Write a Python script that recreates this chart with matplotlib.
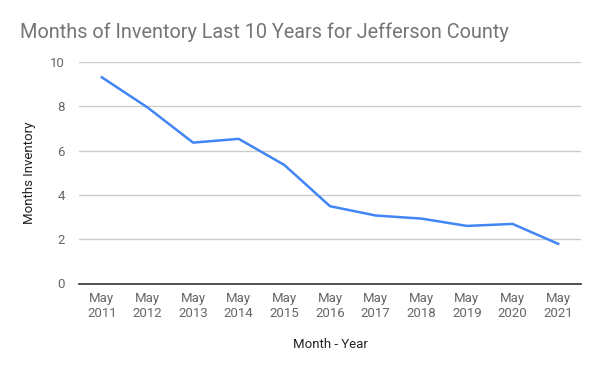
import matplotlib
matplotlib.use("Agg")
import matplotlib.pyplot as plt

plt.rcParams['font.family'] = ['Roboto', 'DejaVu Sans']

# data
years = ["2011", "2012", "2013", "2014", "2015", "2016",
         "2017", "2018", "2019", "2020", "2021"]
labels = ["May\n" + y for y in years]
inventory = [9.31, 7.95, 6.36, 6.53, 5.35, 3.49, 3.07, 2.93, 2.60, 2.69, 1.79]

fig = plt.figure(figsize=(6, 3.71), dpi=100)
ax = fig.add_axes([79 / 600, 1 - 283.5 / 371, 502 / 600, 221.5 / 371])

x = range(len(labels))
ax.plot(x, inventory, color='#4285F4', linewidth=1.8, solid_joinstyle='round')

ax.set_xlim(-0.5, len(labels) - 0.5)
ax.set_ylim(0, 10)
ax.set_yticks([0, 2, 4, 6, 8, 10])
ax.set_xticks(list(x))
ax.set_xticklabels(labels)
ax.tick_params(axis='both', length=0, colors='#666666', labelsize=9.5)
ax.tick_params(axis='y', pad=10)
ax.tick_params(axis='x', pad=6)
ax.grid(axis='y', color='#cccccc', linewidth=1)
ax.set_axisbelow(True)
for s in ['top', 'right', 'left']:
    ax.spines[s].set_visible(False)
ax.spines['bottom'].set_color('#333333')
ax.spines['bottom'].set_linewidth(1.2)

ax.set_ylabel("Months Inventory", fontsize=9.5, color='#222222', labelpad=10)
ax.set_xlabel("Month - Year", fontsize=9.5, color='#222222', labelpad=13)

fig.text(20 / 600, 1 - 32 / 371, "Months of Inventory Last 10 Years for Jefferson County",
         fontsize=14.3, color='#757575', va='center', ha='left')

fig.savefig("out.png", dpi=100)
